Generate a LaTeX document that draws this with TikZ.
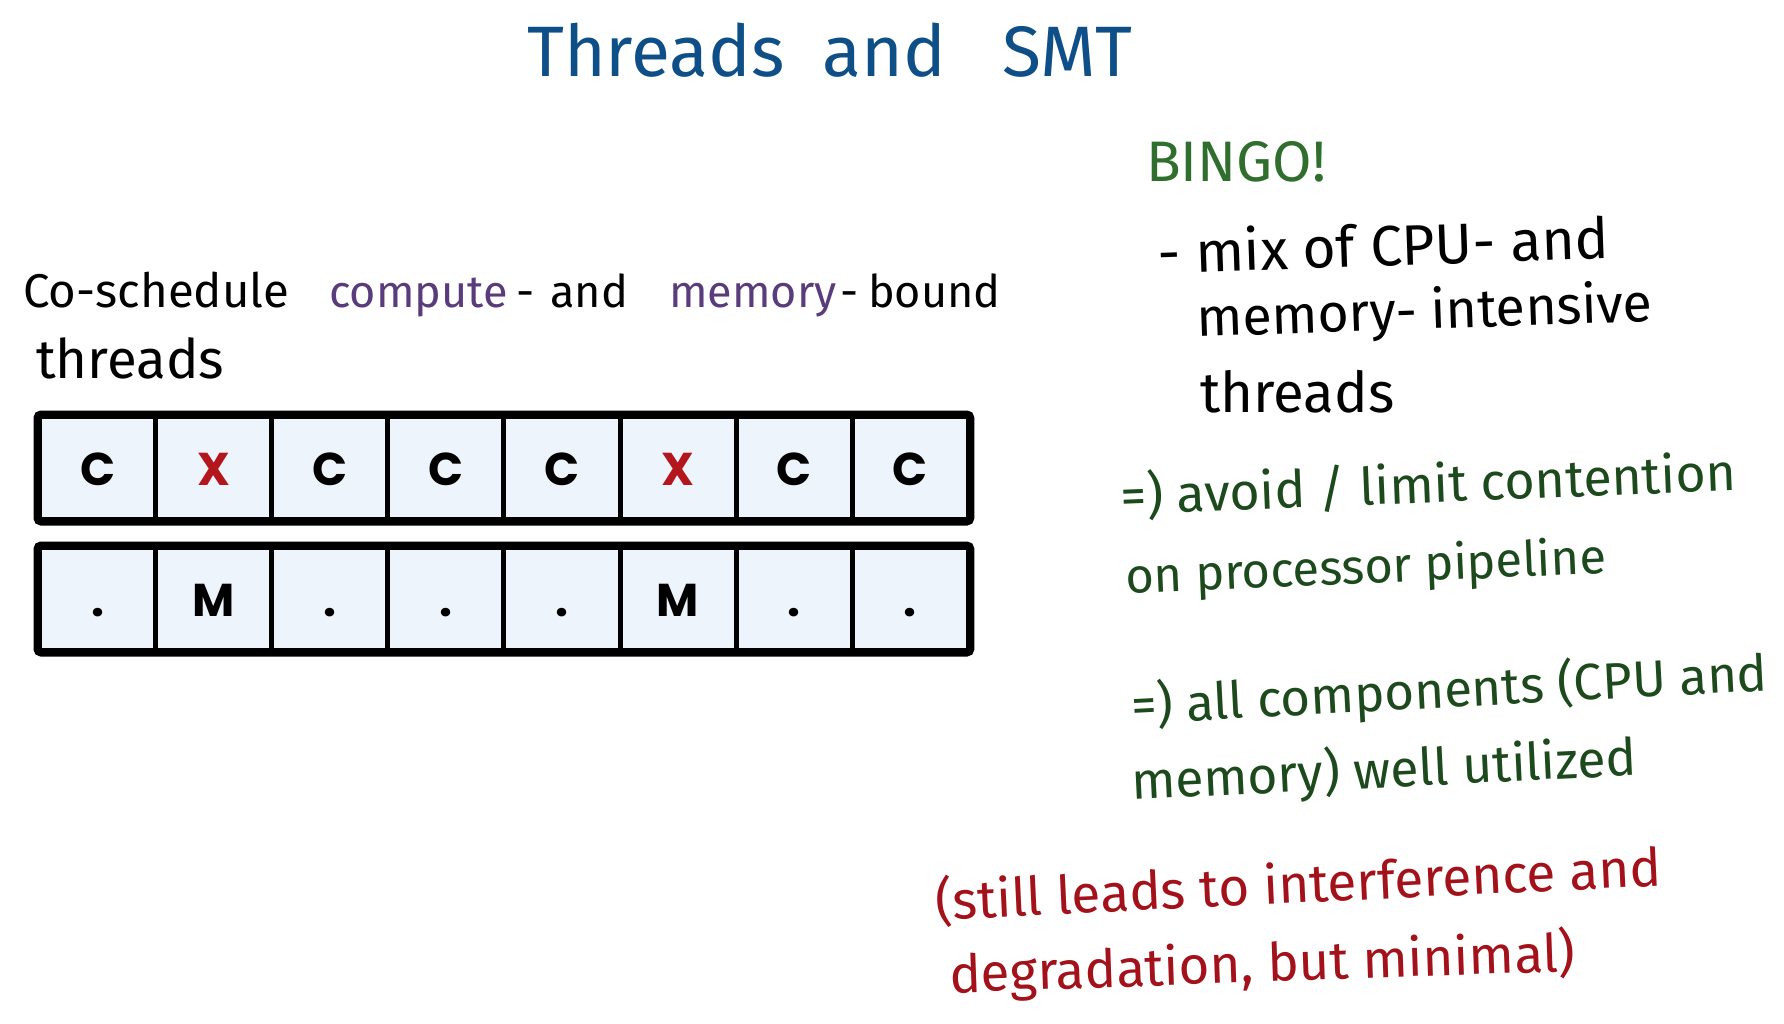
\documentclass[tikz,border=0pt]{standalone}
\usepackage{fontspec}
\usepackage{graphicx}
\setmainfont{Fira Sans}
\newfontfamily\cellfont{Poppins}
\definecolor{titleblue}{HTML}{0D4F86}
\definecolor{bingogreen}{HTML}{2F6E2C}
\definecolor{notegreen}{HTML}{1D4A1C}
\definecolor{purp}{HTML}{5A3C7C}
\definecolor{redink}{HTML}{A3121A}
\definecolor{xred}{HTML}{B3161C}
\definecolor{cellfill}{HTML}{EEF4FB}
\newcommand{\hwfit}[2]{\resizebox{#1pt}{!}{#2}}
\begin{document}
\begin{tikzpicture}[x=1pt,y=-1pt,
  hw/.style={anchor=base west,inner sep=0pt,font=\fontsize{44}{50}\selectfont},
  hwfixed/.style={anchor=base west,inner sep=0pt,font=\fontsize{45}{54}\selectfont},
  cellbox/.style={draw=black,line width=5pt,fill=cellfill,minimum width=116.1pt,minimum height=103pt,inner sep=0pt,anchor=north west},
  celltxt/.style={anchor=base,inner sep=0pt,font=\cellfont\bfseries\fontsize{46}{50}\selectfont},
  rowframe/.style={draw=black,line width=7pt,rounded corners=4pt}]
\useasboundingbox (0,0) rectangle (1784,1024);
\fill[white] (0,0) rectangle (1784,1024);

% title
\node[hw,text=titleblue] (title) at (527,77) {\hwfit{605}{Threads\ \ and\ \ \ SMT}};

% left text
\node[hwfixed] (cosched) at (23,307) {\hwfit{266}{Co-schedule}};
\node[hwfixed,text=purp] (compute) at (329,307) {compute};
\node[hwfixed] (dash1) at (516,307) {-};
\node[hwfixed] (and1) at (550,307) {and};
\node[hwfixed,text=purp] (memory) at (669,307) {memory};
\node[hwfixed] (dash2) at (840,307) {-};
\node[hwfixed] (bound) at (868,307) {bound};
\node[hw] (threadsL) at (36,378) {\hwfit{188}{threads}};

% cells
\foreach \t/\c [count=\i from 0] in {C/black,X/xred,C/black,C/black,C/black,X/xred,C/black,C/black}{
  \node[cellbox] (top\i) at ({37+\i*116.1},414) {};
}
\foreach \t [count=\i from 0] in {.,M,.,.,.,M,.,.}{
  \node[cellbox] (bot\i) at ({37+\i*116.1},545) {};
}
\draw[rowframe] (top0.north west) rectangle (top7.south east);
\draw[rowframe] (bot0.north west) rectangle (bot7.south east);
\foreach \t/\c [count=\i from 0] in {C/black,X/xred,C/black,C/black,C/black,X/xred,C/black,C/black}{
  \node[celltxt,text=\c] (toptxt\i) at ([yshift=-17pt]top\i.center) {\t};
}
\foreach \t [count=\i from 0] in {.,M,.,.,.,M,.,.}{
  \node[celltxt] (bottxt\i) at ([yshift=-17pt]bot\i.center) {\t};
}

% right notes
\node[hw,text=bingogreen] (bingo) at (1146,182) {\hwfit{180}{BINGO!}};
\node[hw,rotate=2] (mix) at (1158,274) {\hwfit{452}{- mix of CPU- and}};
\node[hw,rotate=2] (memint) at (1197,337) {\hwfit{456}{memory- intensive}};
\node[hw] (threadsR) at (1200,412) {\hwfit{194}{threads}};

\node[hw,rotate=2.3,text=notegreen] (avoid) at (1121,515) {\hwfit{616}{=) avoid / limit contention}};
\node[hw,rotate=2.5,text=notegreen] (onproc) at (1126,594) {\hwfit{481}{on processor pipeline}};
\node[hw,rotate=3,text=notegreen] (allcomp) at (1132,724) {\hwfit{637}{=) all components (CPU and}};
\node[hw,rotate=2.8,text=notegreen] (memwell) at (1132,800) {\hwfit{506}{memory) well utilized}};

\node[hw,rotate=2.7,text=redink] (still) at (936,920) {\hwfit{727}{(still leads to interference and}};
\node[hw,rotate=2,text=redink] (degr) at (950,993) {\hwfit{626}{degradation, but minimal)}};
\end{tikzpicture}
\end{document}
